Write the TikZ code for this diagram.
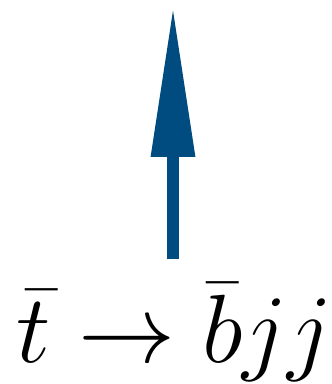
\documentclass[tikz,border=0pt]{standalone}
\usepackage{fix-cm}
\usepackage{amsmath,amssymb}
\usetikzlibrary{arrows.meta}
\definecolor{decayblue}{RGB}{0,76,128}

\begin{document}
\begin{tikzpicture}[x=1pt,y=1pt,
        DecayArrow/.style={decayblue, line width=12.7pt,
            -{Triangle[width=41pt,length=152pt]}},
        DecayLabel/.style={inner sep=0pt, anchor=base,
            font=\fontsize{97}{104}\selectfont}]
        \useasboundingbox (0,0) rectangle (332,384);
        \node[DecayLabel] (decay) at (174.5,21.3) {$\bar t \to \bar b jj$};
        \coordinate (tail) at (173,124.7);
        \coordinate (tip) at (173,379);
        \draw[DecayArrow] (tail) -- (tip);
    \end{tikzpicture}
\end{document}
